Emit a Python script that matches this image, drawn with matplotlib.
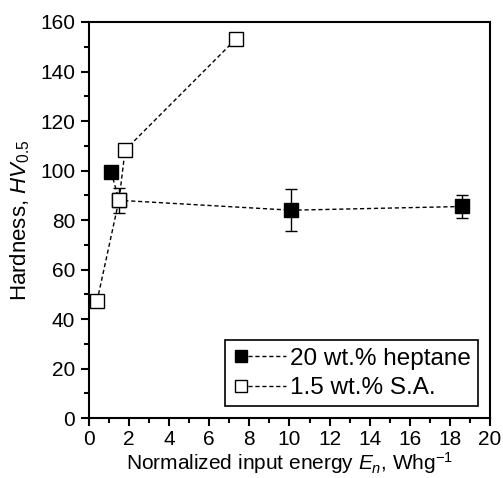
import numpy as np
import matplotlib
matplotlib.use("Agg")
import matplotlib.pyplot as plt
from matplotlib.legend_handler import HandlerLine2DCompound

plt.rcParams['font.family'] = ['Liberation Sans', 'DejaVu Sans']
plt.rcParams['mathtext.fontset'] = 'custom'
plt.rcParams['mathtext.rm'] = 'Liberation Sans'
plt.rcParams['mathtext.it'] = 'Liberation Sans:italic'

# Data
hep_x = [1.1, 1.5, 10.1, 18.6]
hep_y = [99.5, 88.0, 84.0, 85.5]
hep_err = [0.0, 5.0, 8.5, 4.8]
sa_x = [0.4, 1.5, 1.8, 7.35]
sa_y = [47.3, 88.3, 108.3, 153.3]
sa_err = [0.0, 0.0, 0.0, 0.0]
labels = ["20 wt.% heptane", "1.5 wt.% S.A."]


class MarkerLeftHandler(HandlerLine2DCompound):
    def get_xdata(self, legend, xdescent, ydescent, width, height, fontsize):
        xdata = np.array([-xdescent + 6, -xdescent + width])
        xdata_marker = np.array([-xdescent + 6])
        return xdata, xdata_marker


fig = plt.figure(figsize=(5.03, 4.78), dpi=100)
ax = fig.add_axes([0.177, 0.125, 0.797, 0.829])

l1 = ax.errorbar(hep_x, hep_y, yerr=hep_err, fmt='s', ls=(0, (3, 2)), lw=1.0,
                 color='black', mfc='black', mec='black', ms=10, capsize=4,
                 elinewidth=1.0, capthick=1.0, zorder=2, label=labels[0])
l2 = ax.errorbar(sa_x, sa_y, yerr=sa_err, fmt='s', ls=(0, (3, 2)), lw=1.0,
                 color='black', mfc='white', mec='black', ms=10, mew=1.0,
                 capsize=0, zorder=3, label=labels[1])

ax.set_xlim(0, 20)
ax.set_ylim(0, 160)
ax.set_xticks(np.arange(0, 21, 2))
ax.set_xticks(np.arange(1, 20, 2), minor=True)
ax.set_yticks(np.arange(0, 161, 20))
ax.set_yticks(np.arange(10, 160, 20), minor=True)
ax.tick_params(axis='both', which='major', direction='out', length=6, width=1.5,
               labelsize=15, pad=4)
ax.tick_params(axis='x', which='major', pad=2.5)
ax.tick_params(axis='both', which='minor', direction='out', length=3.5, width=1.5)
ax.tick_params(top=False, right=False, which='both')
for s in ax.spines.values():
    s.set_linewidth(1.5)

ax.set_ylabel(r"Hardness, $HV_{0.5}$", fontsize=16, labelpad=6)
ax.set_xlabel(r"Normalized input energy $E_n$, Whg$^{-1}$", fontsize=15, labelpad=1)

h1 = l1.lines[0]
h2 = l2.lines[0]
leg = ax.legend([h1, h2], labels, loc='lower right', fontsize=17.5,
                handler_map={h1: MarkerLeftHandler(), h2: MarkerLeftHandler()},
                handlelength=2.2, handletextpad=0.15, borderpad=0.3, labelspacing=0.3,
                fancybox=False, framealpha=1, edgecolor='black',
                bbox_to_anchor=(0.97, 0.03), markerscale=0.8, borderaxespad=0)
leg.get_frame().set_linewidth(1.2)

fig.savefig("out.png", dpi=100)
